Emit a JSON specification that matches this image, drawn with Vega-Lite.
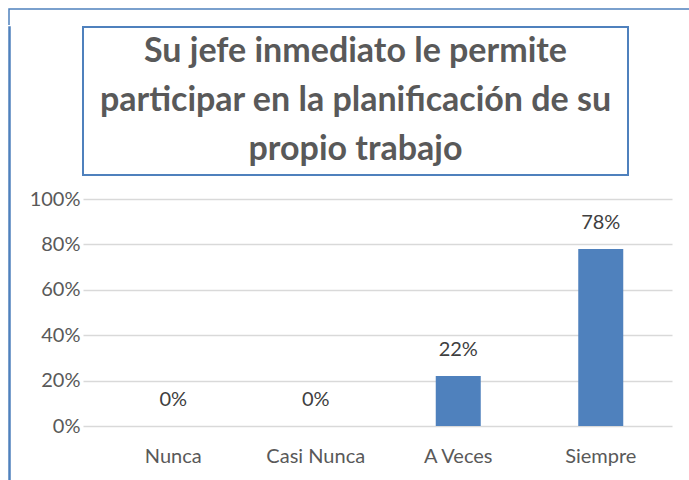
{
  "$schema": "https://vega.github.io/schema/vega-lite/v6.json",
  "padding": {"left": 8, "top": 8, "right": 0, "bottom": 0},
  "background": "white",
  "config": {"view": {"stroke": null}, "font": "Lato"},
  "spacing": 0,
  "vconcat": [
    {
      "width": 681,
      "height": 16,
      "view": {"stroke": "#4F81BD", "strokeWidth": 1.5, "strokeDash": [681, 697, 16]},
      "data": {"values": [{"k": 1}]},
      "mark": {"type": "point", "opacity": 0, "size": 1},
      "encoding": {}
    },
    {
      "spacing": 15,
      "hconcat": [
        {
          "width": 1,
          "height": 455,
          "view": {"stroke": "#4F81BD", "strokeWidth": 1.5},
          "data": {"values": [{"k": 1}]},
          "mark": {"type": "point", "opacity": 0, "size": 1},
          "encoding": {}
        },
        {
          "spacing": 13,
          "vconcat": [
            {
              "width": 545,
              "height": 148,
              "view": {"stroke": "#4F81BD", "strokeWidth": 2},
              "data": {"values": [
                {"i": 1, "line": "Su jefe inmediato le permite"},
                {"i": 2, "line": "participar en la planificación de su"},
                {"i": 3, "line": "propio trabajo"}
              ]},
              "mark": {"type": "text", "fontSize": 34, "fontWeight": "bold", "color": "#595959"},
              "encoding": {
                "y": {"field": "i", "type": "ordinal", "scale": {"paddingInner": 0, "paddingOuter": 0.1}, "axis": null},
                "text": {"field": "line"}
              }
            },
            {
              "width": 589,
              "height": 227,
              "data": {"values": [
                {"cat": "Nunca", "pct": 0},
                {"cat": "Casi Nunca", "pct": 0},
                {"cat": "A Veces", "pct": 0.22},
                {"cat": "Siempre", "pct": 0.78}
              ]},
              "encoding": {
                "x": {"field": "cat", "type": "nominal", "sort": null,
                      "scale": {"paddingInner": 0, "paddingOuter": 0.0667, "align": 1},
                      "axis": {"title": null, "labelAngle": 0, "domain": false, "ticks": false, "labelPadding": 20, "labelFontSize": 20, "labelColor": "#595959"}},
                "y": {"field": "pct", "type": "quantitative",
                      "scale": {"domain": [0, 1]},
                      "axis": {"title": null, "values": [0, 0.2, 0.4, 0.6, 0.8, 1], "format": ".0%", "domain": false, "ticks": false, "labelPadding": 3, "labelFontSize": 20, "labelColor": "#595959", "gridColor": "#D9D9D9", "gridWidth": 1.5, "minExtent": 57, "maxExtent": 57}}
              },
              "layer": [
                {"mark": {"type": "bar", "size": 45, "color": "#4F81BD"}},
                {"mark": {"type": "text", "baseline": "bottom", "dy": -16, "fontSize": 20, "color": "#404040"},
                 "encoding": {"text": {"field": "pct", "type": "quantitative", "format": ".0%"}}}
              ]
            }
          ]
        }
      ]
    }
  ]
}
